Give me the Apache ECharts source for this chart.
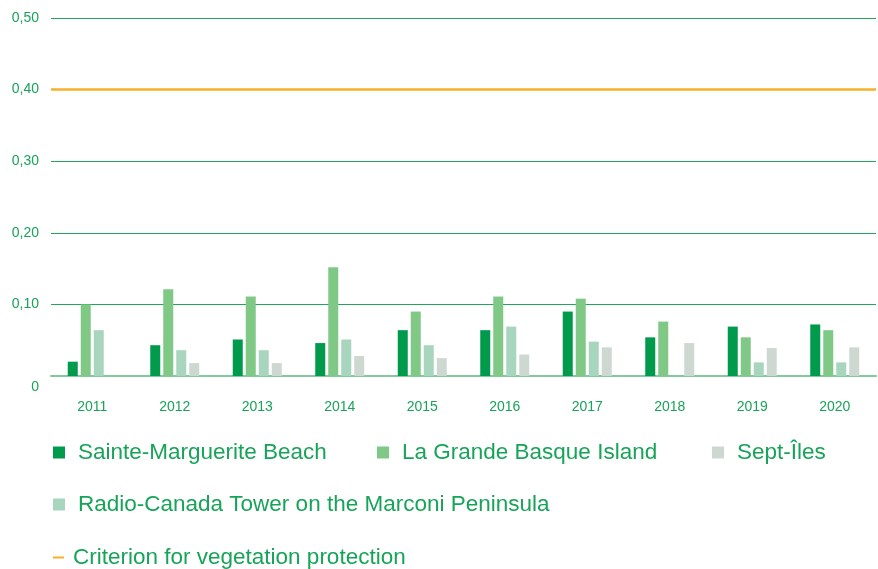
<!DOCTYPE html>
<html>
<head>
<meta charset="utf-8">
<title>Chart</title>
<script src="https://cdn.jsdelivr.net/npm/echarts@6/dist/echarts.min.js"></script>
<style>
  html, body { margin: 0; padding: 0; background: #fff; }
  #chart { width: 878px; height: 569px; }
</style>
</head>
<body>
<div id="chart"></div>
<script>
// data
var years = ['2011', '2012', '2013', '2014', '2015', '2016', '2017', '2018', '2019', '2020'];
var sainteMarguerite = [0.020, 0.043, 0.051, 0.046, 0.064, 0.064, 0.090, 0.054, 0.069, 0.072];
var grandeBasque = [0.100, 0.121, 0.111, 0.152, 0.090, 0.111, 0.108, 0.076, 0.054, 0.064];
var radioCanada = [0.064, 0.036, 0.036, 0.051, 0.043, 0.069, 0.048, null, 0.019, 0.019];
var septIles = [null, 0.018, 0.018, 0.028, 0.025, 0.030, 0.040, 0.046, 0.039, 0.040];
var criterion = 0.40;

var green = '#17a458';
var font = '"Liberation Sans", Arial, sans-serif';

var chart = echarts.init(document.getElementById('chart'));

// one legend per item so each sits where the original puts it
function legendItem(name, left, top, color) {
    return {
        data: [{ name: name, icon: 'rect', itemStyle: { color: color } }],
        left: left,
        top: top,
        padding: 0,
        itemWidth: 12,
        itemHeight: 12,
        selectedMode: false,
        textStyle: { color: green, fontSize: 22.5, lineHeight: 22, fontFamily: font, padding: [0, 0, 0, 8] }
    };
}

function barSeries(name, data, color) {
    return {
        name: name,
        type: 'bar',
        data: data,
        barWidth: 10,
        barGap: '30%',
        itemStyle: { color: color },
        silent: true
    };
}

var option = {
    animation: false,
    textStyle: { fontFamily: font },
    grid: { left: 51, right: 2, top: 18, bottom: 193 },
    legend: [
        legendItem('Sainte-Marguerite Beach', 53, 441, '#009a4c'),
        legendItem('La Grande Basque Island', 377, 441, '#7fc886'),
        legendItem('Sept-Îles', 712, 441, '#ccd8d0'),
        legendItem('Radio-Canada Tower on the Marconi Peninsula', 53, 493, '#a8d5bd'),
        {
            data: [{ name: 'Criterion for vegetation protection', icon: 'rect', itemStyle: { color: '#f6b02a' } }],
            left: 53,
            top: 546,
            padding: 0,
            itemWidth: 11,
            itemHeight: 2,
            selectedMode: false,
            textStyle: { color: green, fontSize: 22.5, lineHeight: 22, fontFamily: font, padding: [0, 0, 0, 4] }
        }
    ],
    xAxis: {
        type: 'category',
        data: years,
        axisLine: { show: true, lineStyle: { color: '#7fc99a', width: 2 } },
        axisTick: { show: false },
        axisLabel: { color: green, fontSize: 14, margin: 24 }
    },
    yAxis: {
        type: 'value',
        min: 0,
        max: 0.5,
        interval: 0.1,
        axisLine: { show: false },
        axisTick: { show: false },
        splitLine: { lineStyle: { color: '#22a65c', width: 1.2 } },
        axisLabel: {
            color: green,
            fontSize: 14,
            margin: 12,
            formatter: function (v) {
                if (v === 0) return '{z|0}';
                return v.toFixed(2).replace('.', ',');
            },
            rich: { z: { color: green, fontSize: 14, padding: [22, 0, 0, 0] } }
        }
    },
    series: [
        barSeries('Sainte-Marguerite Beach', sainteMarguerite, '#009a4c'),
        barSeries('La Grande Basque Island', grandeBasque, '#7fc886'),
        barSeries('Radio-Canada Tower on the Marconi Peninsula', radioCanada, '#a8d5bd'),
        barSeries('Sept-Îles', septIles, '#ccd8d0'),
        {
            name: 'Criterion for vegetation protection',
            type: 'line',
            data: [],
            itemStyle: { color: '#f6b02a' },
            markLine: {
                silent: true,
                symbol: 'none',
                label: { show: false },
                lineStyle: { color: '#f6b02a', width: 2.5, type: 'solid' },
                data: [{ yAxis: criterion }]
            }
        }
    ]
};

chart.setOption(option);
window.onresize = function () {
    chart.resize();
};
</script>
</body>
</html>
